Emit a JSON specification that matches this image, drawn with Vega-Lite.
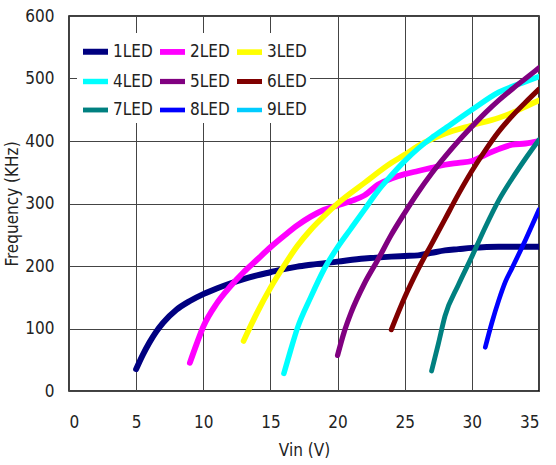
{
  "$schema": "https://vega.github.io/schema/vega-lite/v6.json",
  "width": 470,
  "height": 375,
  "autosize": {"type": "none"},
  "padding": {"left": 69, "top": 16, "right": 17, "bottom": 74},
  "background": "white",
  "config": {
    "font": "'DejaVu Sans Condensed', 'Liberation Sans', sans-serif",
    "view": {"stroke": "#000", "strokeWidth": 1.5},
    "axis": {
      "labelFont": "'DejaVu Sans Condensed', 'Liberation Sans', sans-serif",
      "titleFont": "'DejaVu Sans Condensed', 'Liberation Sans', sans-serif",
      "labelFontSize": 17,
      "titleFontSize": 17,
      "titleFontWeight": "normal",
      "labelColor": "#222",
      "titleColor": "#222",
      "gridColor": "#444",
      "gridOpacity": 1,
      "gridWidth": 1,
      "domain": false,
      "ticks": false
    }
  },
  "data": {
    "values": [
      {"series": "1LED", "vin": 5, "f": 35},
      {"series": "1LED", "vin": 5.5, "f": 58},
      {"series": "1LED", "vin": 6, "f": 78},
      {"series": "1LED", "vin": 6.5, "f": 95},
      {"series": "1LED", "vin": 7, "f": 109},
      {"series": "1LED", "vin": 8, "f": 130},
      {"series": "1LED", "vin": 9, "f": 144},
      {"series": "1LED", "vin": 10, "f": 155},
      {"series": "1LED", "vin": 11, "f": 164},
      {"series": "1LED", "vin": 12, "f": 172},
      {"series": "1LED", "vin": 13, "f": 179},
      {"series": "1LED", "vin": 14, "f": 185},
      {"series": "1LED", "vin": 15, "f": 190},
      {"series": "1LED", "vin": 16, "f": 195},
      {"series": "1LED", "vin": 17, "f": 199},
      {"series": "1LED", "vin": 18, "f": 202},
      {"series": "1LED", "vin": 20, "f": 207},
      {"series": "1LED", "vin": 22, "f": 212},
      {"series": "1LED", "vin": 24, "f": 215},
      {"series": "1LED", "vin": 25, "f": 216},
      {"series": "1LED", "vin": 26, "f": 217},
      {"series": "1LED", "vin": 27, "f": 221},
      {"series": "1LED", "vin": 28, "f": 225},
      {"series": "1LED", "vin": 29, "f": 227},
      {"series": "1LED", "vin": 30, "f": 229},
      {"series": "1LED", "vin": 32, "f": 231},
      {"series": "1LED", "vin": 35, "f": 231},

      {"series": "2LED", "vin": 9, "f": 45},
      {"series": "2LED", "vin": 9.5, "f": 75},
      {"series": "2LED", "vin": 10, "f": 103},
      {"series": "2LED", "vin": 11, "f": 140},
      {"series": "2LED", "vin": 12, "f": 167},
      {"series": "2LED", "vin": 13, "f": 190},
      {"series": "2LED", "vin": 14, "f": 210},
      {"series": "2LED", "vin": 15, "f": 230},
      {"series": "2LED", "vin": 16, "f": 248},
      {"series": "2LED", "vin": 17, "f": 265},
      {"series": "2LED", "vin": 18, "f": 279},
      {"series": "2LED", "vin": 19, "f": 290},
      {"series": "2LED", "vin": 20, "f": 297},
      {"series": "2LED", "vin": 21, "f": 304},
      {"series": "2LED", "vin": 22, "f": 313},
      {"series": "2LED", "vin": 23, "f": 330},
      {"series": "2LED", "vin": 24, "f": 340},
      {"series": "2LED", "vin": 25, "f": 347},
      {"series": "2LED", "vin": 26, "f": 352},
      {"series": "2LED", "vin": 27, "f": 357},
      {"series": "2LED", "vin": 28, "f": 362},
      {"series": "2LED", "vin": 29, "f": 365},
      {"series": "2LED", "vin": 30, "f": 368},
      {"series": "2LED", "vin": 31, "f": 378},
      {"series": "2LED", "vin": 32, "f": 387},
      {"series": "2LED", "vin": 33, "f": 394},
      {"series": "2LED", "vin": 34, "f": 396},
      {"series": "2LED", "vin": 35, "f": 400},

      {"series": "3LED", "vin": 13, "f": 80},
      {"series": "3LED", "vin": 14, "f": 125},
      {"series": "3LED", "vin": 15, "f": 165},
      {"series": "3LED", "vin": 16, "f": 200},
      {"series": "3LED", "vin": 17, "f": 232},
      {"series": "3LED", "vin": 18, "f": 258},
      {"series": "3LED", "vin": 19, "f": 280},
      {"series": "3LED", "vin": 20, "f": 300},
      {"series": "3LED", "vin": 22, "f": 333},
      {"series": "3LED", "vin": 24, "f": 365},
      {"series": "3LED", "vin": 25, "f": 378},
      {"series": "3LED", "vin": 26, "f": 392},
      {"series": "3LED", "vin": 28, "f": 412},
      {"series": "3LED", "vin": 30, "f": 425},
      {"series": "3LED", "vin": 32, "f": 437},
      {"series": "3LED", "vin": 33, "f": 445},
      {"series": "3LED", "vin": 34, "f": 455},
      {"series": "3LED", "vin": 35, "f": 465},

      {"series": "4LED", "vin": 16, "f": 28},
      {"series": "4LED", "vin": 16.5, "f": 65},
      {"series": "4LED", "vin": 17, "f": 100},
      {"series": "4LED", "vin": 18, "f": 150},
      {"series": "4LED", "vin": 19, "f": 195},
      {"series": "4LED", "vin": 20, "f": 230},
      {"series": "4LED", "vin": 21, "f": 260},
      {"series": "4LED", "vin": 22, "f": 290},
      {"series": "4LED", "vin": 23, "f": 320},
      {"series": "4LED", "vin": 24, "f": 345},
      {"series": "4LED", "vin": 25, "f": 368},
      {"series": "4LED", "vin": 26, "f": 388},
      {"series": "4LED", "vin": 27, "f": 405},
      {"series": "4LED", "vin": 28, "f": 420},
      {"series": "4LED", "vin": 30, "f": 450},
      {"series": "4LED", "vin": 32, "f": 478},
      {"series": "4LED", "vin": 34, "f": 495},
      {"series": "4LED", "vin": 35, "f": 503},

      {"series": "5LED", "vin": 20, "f": 57},
      {"series": "5LED", "vin": 20.5, "f": 95},
      {"series": "5LED", "vin": 21, "f": 125},
      {"series": "5LED", "vin": 22, "f": 172},
      {"series": "5LED", "vin": 23, "f": 210},
      {"series": "5LED", "vin": 24, "f": 250},
      {"series": "5LED", "vin": 25, "f": 285},
      {"series": "5LED", "vin": 26, "f": 318},
      {"series": "5LED", "vin": 27, "f": 348},
      {"series": "5LED", "vin": 28, "f": 375},
      {"series": "5LED", "vin": 29, "f": 400},
      {"series": "5LED", "vin": 30, "f": 423},
      {"series": "5LED", "vin": 31, "f": 445},
      {"series": "5LED", "vin": 32, "f": 465},
      {"series": "5LED", "vin": 33, "f": 483},
      {"series": "5LED", "vin": 34, "f": 500},
      {"series": "5LED", "vin": 35, "f": 517},

      {"series": "6LED", "vin": 24, "f": 98},
      {"series": "6LED", "vin": 25, "f": 150},
      {"series": "6LED", "vin": 26, "f": 195},
      {"series": "6LED", "vin": 27, "f": 235},
      {"series": "6LED", "vin": 28, "f": 275},
      {"series": "6LED", "vin": 29, "f": 315},
      {"series": "6LED", "vin": 30, "f": 352},
      {"series": "6LED", "vin": 31, "f": 385},
      {"series": "6LED", "vin": 32, "f": 415},
      {"series": "6LED", "vin": 33, "f": 440},
      {"series": "6LED", "vin": 34, "f": 462},
      {"series": "6LED", "vin": 35, "f": 483},

      {"series": "7LED", "vin": 27, "f": 32},
      {"series": "7LED", "vin": 27.5, "f": 75},
      {"series": "7LED", "vin": 28, "f": 120},
      {"series": "7LED", "vin": 29, "f": 170},
      {"series": "7LED", "vin": 30, "f": 215},
      {"series": "7LED", "vin": 31, "f": 262},
      {"series": "7LED", "vin": 32, "f": 305},
      {"series": "7LED", "vin": 33, "f": 340},
      {"series": "7LED", "vin": 34, "f": 372},
      {"series": "7LED", "vin": 35, "f": 402},

      {"series": "8LED", "vin": 31, "f": 70},
      {"series": "8LED", "vin": 31.5, "f": 110},
      {"series": "8LED", "vin": 32, "f": 145},
      {"series": "8LED", "vin": 32.5, "f": 175},
      {"series": "8LED", "vin": 33, "f": 197},
      {"series": "8LED", "vin": 34, "f": 242},
      {"series": "8LED", "vin": 35, "f": 290}
    ]
  },
  "mark": {"type": "line", "interpolate": "monotone", "strokeCap": "round", "clip": true},
  "encoding": {
    "x": {
      "field": "vin", "type": "quantitative",
      "scale": {"domain": [0, 35], "nice": false},
      "axis": {"values": [0, 5, 10, 15, 20, 25, 30, 35], "title": "Vin (V)", "labelPadding": 23, "titlePadding": 12}
    },
    "y": {
      "field": "f", "type": "quantitative",
      "scale": {"domain": [0, 600], "nice": false},
      "axis": {"values": [0, 100, 200, 300, 400, 500, 600], "title": "Frequency (KHz)", "labelPadding": 15, "titleX": -48}
    },
    "color": {
      "field": "series", "type": "nominal",
      "scale": {
        "domain": ["1LED", "2LED", "3LED", "4LED", "5LED", "6LED", "7LED", "8LED", "9LED"],
        "range": ["#000080", "#FF00FF", "#FFFF00", "#00FFFF", "#800080", "#800000", "#008080", "#0000FF", "#00CCFF"]
      },
      "legend": {
        "title": null,
        "orient": "none",
        "legendX": 8,
        "legendY": 17,
        "columns": 3,
        "direction": "horizontal",
        "fillColor": "white",
        "padding": 3,
        "symbolType": "stroke",
        "symbolStrokeWidth": 4,
        "symbolSize": 625,
        "labelFont": "'DejaVu Sans Condensed', 'Liberation Sans', sans-serif",
        "labelFontSize": 17,
        "labelColor": "#222",
        "labelOffset": 2,
        "columnPadding": -5,
        "rowPadding": 2
      }
    },
    "strokeWidth": {
      "field": "series", "type": "nominal",
      "scale": {
        "domain": ["1LED", "2LED", "3LED", "4LED", "5LED", "6LED", "7LED", "8LED", "9LED"],
        "range": [6, 4.5, 4.5, 4.5, 4.5, 4.5, 4.5, 4.5, 4.5]
      },
      "legend": null
    }
  }
}
